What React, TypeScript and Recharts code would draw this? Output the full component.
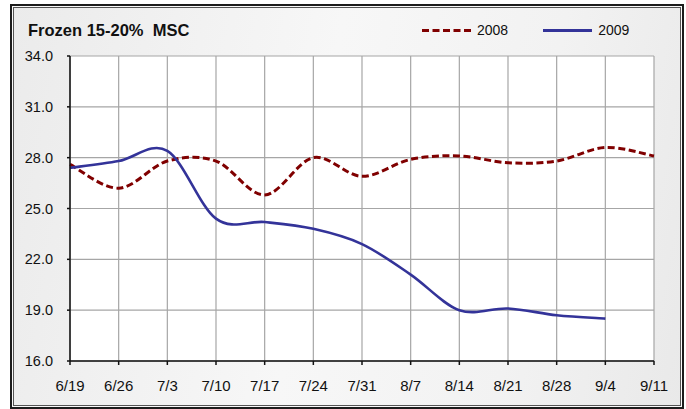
import { CartesianGrid, Line, LineChart, XAxis, YAxis } from "recharts";

const dates = ["6/19", "6/26", "7/3", "7/10", "7/17", "7/24", "7/31", "8/7", "8/14", "8/21", "8/28", "9/4", "9/11"];
const values2008 = [27.6, 26.2, 27.8, 27.8, 25.8, 28.0, 26.9, 27.9, 28.1, 27.7, 27.8, 28.6, 28.1];
const values2009 = [27.4, 27.8, 28.4, 24.4, 24.2, 23.8, 22.9, 21.1, 19.0, 19.1, 18.7, 18.5, null];
const yTicks = [16, 19, 22, 25, 28, 31, 34];

const SERIES = [
  { key: "y2008", name: "2008", color: "#800000", dash: "7 3.5" },
  { key: "y2009", name: "2009", color: "#333399", dash: undefined },
];

const FONT = "'Liberation Sans', Arial, sans-serif";

// Excel style smoothing: cubic bezier with tangents from the neighbouring points
function excelSmooth(context: any) {
  let pts: number[][] = [];
  return {
    areaStart() {},
    areaEnd() {},
    lineStart() {
      pts = [];
    },
    point(x: number, y: number) {
      pts.push([+x, +y]);
    },
    lineEnd() {
      const n = pts.length;
      if (!n) return;
      context.moveTo(pts[0][0], pts[0][1]);
      for (let i = 0; i < n - 1; i++) {
        const p0 = pts[Math.max(i - 1, 0)];
        const p1 = pts[i];
        const p2 = pts[i + 1];
        const p3 = pts[Math.min(i + 2, n - 1)];
        context.bezierCurveTo(
          p1[0] + (p2[0] - p0[0]) / 6,
          p1[1] + (p2[1] - p0[1]) / 6,
          p2[0] - (p3[0] - p1[0]) / 6,
          p2[1] - (p3[1] - p1[1]) / 6,
          p2[0],
          p2[1]
        );
      }
    },
  };
}

const data = dates.map((date, i) => ({
  date,
  y2008: values2008[i],
  y2009: values2009[i],
}));

export default function App() {
  return (
    <div style={{ position: "absolute", left: 0, top: 0, width: 686, height: 409, fontFamily: FONT }}>
      <div
        style={{
          position: "absolute",
          left: 10,
          top: 4,
          width: 674,
          height: 405,
          boxSizing: "border-box",
          border: "2px solid #1c1c1c",
          boxShadow: "inset 0 0 0 1px #fafafa, inset 0 0 0 2px #555",
          background: "linear-gradient(100deg, #ebebeb 0%, #f7f7f7 45%, #f2f2f2 75%, #e9e9e9 100%)",
        }}
      />
      <div
        style={{
          position: "absolute",
          left: 28,
          top: 22,
          fontSize: 16.5,
          fontWeight: "bold",
          lineHeight: "16px",
          color: "#111",
          whiteSpace: "pre",
        }}
      >
        Frozen 15-20%  MSC
      </div>
      <div style={{ position: "absolute", left: 422, top: 22, display: "flex", alignItems: "center", fontSize: 14, color: "#111" }}>
        {SERIES.map((s, i) => (
          <div key={s.key} style={{ display: "flex", alignItems: "center", marginLeft: i === 0 ? 0 : 35 }}>
            <svg width={49} height={16}>
              <line x1={0} y1={8.5} x2={49} y2={8.5} stroke={s.color} strokeWidth={3} strokeDasharray={s.dash} />
            </svg>
            <span style={{ marginLeft: 6, lineHeight: "16px" }}>{s.name}</span>
          </div>
        ))}
      </div>
      <div style={{ position: "absolute", left: 0, top: 0 }}>
        <LineChart width={686} height={409} data={data} margin={{ top: 56, right: 32, bottom: 18, left: 0 }}>
          <CartesianGrid stroke="#a6a6a6" strokeWidth={1.2} fill="#ffffff" />
          <XAxis
            dataKey="date"
            interval={0}
            height={30}
            tickSize={4}
            tickMargin={15}
            stroke="#111"
            strokeWidth={1.5}
            tick={{ fill: "#111", fontSize: 15, fontFamily: FONT }}
          />
          <YAxis
            width={70}
            domain={[16, 34]}
            ticks={yTicks}
            interval={0}
            tickSize={3}
            tickMargin={14}
            stroke="#111"
            strokeWidth={1.5}
            tickFormatter={(v: number) => v.toFixed(1)}
            tick={{ fill: "#111", fontSize: 14.5, fontFamily: FONT }}
          />
          {SERIES.map((s) => (
            <Line
              key={s.key}
              dataKey={s.key}
              name={s.name}
              type={excelSmooth as any}
              stroke={s.color}
              strokeWidth={s.dash ? 3 : 2.6}
              strokeDasharray={s.dash}
              dot={false}
              activeDot={false}
              isAnimationActive={false}
            />
          ))}
        </LineChart>
      </div>
    </div>
  );
}
